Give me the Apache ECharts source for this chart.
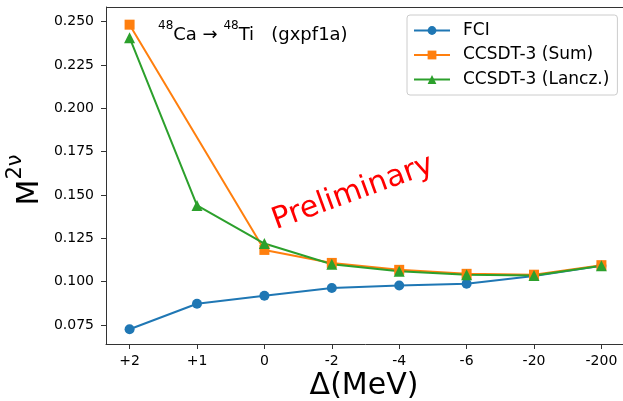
<!DOCTYPE html>
<html>
<head>
<meta charset="utf-8">
<script src="https://cdn.jsdelivr.net/npm/echarts@6/dist/echarts.min.js"></script>
<style>
  html, body { margin: 0; padding: 0; background: #fff; overflow: hidden; }
  #chart { width: 640px; height: 401px; }
</style>
</head>
<body>
<div id="chart"></div>
<script>
// Energy shift categories (MeV)
const deltaLabels = ['+2', '+1', '0', '-2', '-4', '-6', '-20', '-200'];
// Double-beta nuclear matrix element M^{2nu}
const fciValues = [0.0725, 0.0872, 0.0918, 0.0963, 0.0978, 0.0988, 0.1032, 0.1092];
const sumValues = [0.2483, null, 0.1183, 0.1108, 0.1068, 0.1045, 0.1040, 0.1095];
const lanczValues = [0.2408, 0.1440, 0.1220, 0.1100, 0.1060, 0.1040, 0.1035, 0.1092];
const yTicks = [0.075, 0.100, 0.125, 0.150, 0.175, 0.200, 0.225, 0.250];

const FONT = '"DejaVu Sans", sans-serif';
const AXIS = '#333';

const toPairs = arr => arr.map((v, i) => [i, v]);
const tickIdx = deltaLabels.map((_, i) => i);

const chart = echarts.init(document.getElementById('chart'), null, { renderer: 'canvas' });

const lineSeries = (name, data, color, symbol, size) => ({
  name, type: 'line', data: toPairs(data), connectNulls: true,
  symbol, symbolSize: size, showSymbol: true,
  lineStyle: { color, width: 2 },
  itemStyle: { color, borderWidth: 0 },
  emphasis: { disabled: true },
  animation: false
});

chart.setOption({
  backgroundColor: '#fff',
  animation: false,
  grid: {
    left: 106, top: 7, width: 519, height: 337,
    outerBoundsMode: 'none', containLabel: false
  },
  xAxis: {
    type: 'value', min: -0.35, max: 7.35,
    splitLine: { show: false },
    axisLine: { onZero: false, lineStyle: { color: AXIS, width: 1 } },
    axisTick: { show: true, length: 5, lineStyle: { color: AXIS }, customValues: tickIdx },
    axisLabel: {
      customValues: tickIdx,
      formatter: v => deltaLabels[Math.round(v)],
      color: '#000', fontFamily: FONT, fontSize: 14, margin: 10
    }
  },
  yAxis: {
    type: 'value', min: 0.064, max: 0.2585,
    splitLine: { show: false },
    axisLine: { show: true, onZero: false, lineStyle: { color: AXIS, width: 1 } },
    axisTick: { show: true, length: 5, lineStyle: { color: AXIS }, customValues: yTicks },
    axisLabel: {
      customValues: yTicks,
      formatter: v => v.toFixed(3),
      color: '#000', fontFamily: FONT, fontSize: 14, margin: 12
    }
  },
  legend: {
    orient: 'vertical', left: 407, top: 15,
    padding: [7, 8, 7, 6], itemGap: 7.5,
    itemWidth: 36, itemHeight: 11,
    borderColor: '#ccc', borderWidth: 1, borderRadius: 3,
    backgroundColor: '#fff',
    textStyle: { fontFamily: FONT, fontSize: 17, color: '#000', padding: [0, 0, 0, 8] },
    data: ['FCI', 'CCSDT-3 (Sum)', 'CCSDT-3 (Lancz.)']
  },
  series: [
    lineSeries('FCI', fciValues, '#1f77b4', 'circle', 10),
    lineSeries('CCSDT-3 (Sum)', sumValues, '#ff7f0e', 'rect', 10),
    lineSeries('CCSDT-3 (Lancz.)', lanczValues, '#2ca02c', 'triangle', 11)
  ],
  graphic: [
    {
      // keep the open right side of the plot area clear
      type: 'rect', z: 100,
      shape: { x: 618, y: 8.5, width: 30, height: 335 },
      style: { fill: '#fff' }
    },
    {
      // top frame line of the plot area
      type: 'line', z: 5,
      shape: { x1: 106, y1: 7.5, x2: 640, y2: 7.5 },
      style: { stroke: AXIS, lineWidth: 1 }
    },
    {
      type: 'text', left: 158, top: 20, z: 10,
      style: {
        text: '{s|48}{m|Ca → }{s|48}{m|Ti   (gxpf1a)}',
        fontFamily: FONT,
        rich: {
          s: { fontSize: 12, fontFamily: FONT, fill: '#000', verticalAlign: 'top', lineHeight: 24 },
          m: { fontSize: 18, fontFamily: FONT, fill: '#000', verticalAlign: 'bottom', lineHeight: 24 }
        }
      }
    },
    {
      type: 'text', x: 353, y: 193, rotation: 20 * Math.PI / 180, z: 10,
      style: {
        text: 'Preliminary', fontFamily: FONT, fontSize: 30, fill: '#ff0000',
        align: 'center', verticalAlign: 'middle'
      }
    },
    {
      type: 'text', x: 364, y: 386, z: 10,
      style: {
        text: 'Δ(MeV)', fontFamily: FONT, fontSize: 30, fill: '#000',
        align: 'center', verticalAlign: 'middle'
      }
    },
    {
      type: 'text', x: 25, y: 180, rotation: Math.PI / 2, z: 10,
      style: {
        text: '{m|M}{s|2ν}', fontFamily: FONT, align: 'center', verticalAlign: 'middle',
        rich: {
          m: { fontSize: 30, fontFamily: FONT, fill: '#000', verticalAlign: 'bottom', lineHeight: 40 },
          s: { fontSize: 21, fontFamily: FONT, fill: '#000', verticalAlign: 'top', lineHeight: 40 }
        }
      }
    }
  ]
});
</script>
</body>
</html>
